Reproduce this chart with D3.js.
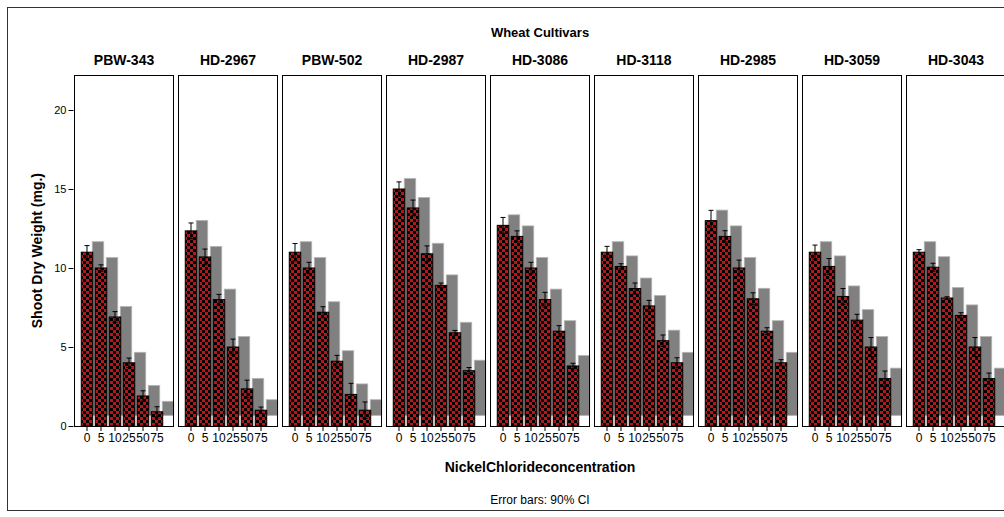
<!DOCTYPE html>
<html>
<head>
<meta charset="utf-8">
<script src="https://cdn.jsdelivr.net/npm/d3@7"></script>
<style>
  body { margin: 0; background: #fff; }
  text { font-family: "Liberation Sans", Arial, sans-serif; fill: #000; }
</style>
</head>
<body>
<div id="main"></div>
<script>
var cultivars = ["PBW-343", "HD-2967", "PBW-502", "HD-2987", "HD-3086", "HD-3118", "HD-2985", "HD-3059", "HD-3043"];
var concentrations = ["0", "5", "10", "25", "50", "75"];

// mean shoot dry weight per cultivar, one value per concentration
var meanWeight = [
  [11.0, 10.0, 6.9, 4.0, 1.9, 0.9],
  [12.35, 10.7, 8.0, 5.0, 2.35, 1.0],
  [11.0, 10.0, 7.2, 4.1, 2.0, 1.0],
  [15.0, 13.8, 10.9, 8.9, 5.9, 3.5],
  [12.7, 12.0, 10.0, 8.0, 6.0, 3.8],
  [11.0, 10.1, 8.7, 7.6, 5.4, 4.0],
  [13.0, 12.0, 10.0, 8.05, 6.0, 4.0],
  [11.0, 10.1, 8.2, 6.7, 5.0, 3.0],
  [11.0, 10.05, 8.1, 7.0, 5.0, 3.0]
];
// half width of the 90% CI
var ciHalf = [
  [0.42, 0.2, 0.34, 0.3, 0.33, 0.32],
  [0.5, 0.5, 0.33, 0.5, 0.55, 0.2],
  [0.55, 0.36, 0.35, 0.37, 0.7, 0.52],
  [0.45, 0.5, 0.5, 0.15, 0.15, 0.2],
  [0.5, 0.35, 0.36, 0.46, 0.35, 0.17],
  [0.37, 0.17, 0.35, 0.35, 0.36, 0.32],
  [0.65, 0.36, 0.5, 0.38, 0.22, 0.2],
  [0.45, 0.5, 0.5, 0.37, 0.6, 0.48],
  [0.16, 0.25, 0.08, 0.17, 0.6, 0.35]
];
var yTicks = [0, 5, 10, 15, 20];

var W = 1004, H = 517;
var panelLeft = 74, panelStep = 104, panelW = 100;
var shadowDx = 11, shadowDy = -10.5;

var svg = d3.select("#main").append("svg")
  .attr("width", W).attr("height", H);

// checker pattern for the bars
var defs = svg.append("defs");
var pat = defs.append("pattern")
  .attr("id", "checker")
  .attr("patternUnits", "userSpaceOnUse")
  .attr("width", 6).attr("height", 6);
pat.append("rect").attr("width", 6).attr("height", 6).attr("fill", "#b5181c");
pat.append("rect").attr("width", 3).attr("height", 3).attr("fill", "#000");
pat.append("rect").attr("x", 3).attr("y", 3).attr("width", 3).attr("height", 3).attr("fill", "#000");

// outer frame
svg.append("rect")
  .attr("x", 7.5).attr("y", 7.5).attr("width", 1010).attr("height", 503)
  .attr("fill", "none").attr("stroke", "#333").attr("stroke-width", 1);

var y = d3.scaleLinear().domain([0, 20]).range([426, 110]);
var panelTop = y(22.2);

var x = d3.scaleBand()
  .domain(concentrations)
  .range([6, 90])
  .paddingInner(0.18)
  .paddingOuter(0.09);

var midX = panelLeft + (panelStep * cultivars.length - 4) / 2;

// titles
svg.append("text")
  .attr("x", midX).attr("y", 37)
  .attr("text-anchor", "middle")
  .style("font-size", "13px").style("font-weight", "bold")
  .text("Wheat Cultivars");

svg.append("text")
  .attr("transform", "translate(42," + (y(0) + panelTop) / 2 + ") rotate(-90)")
  .attr("text-anchor", "middle")
  .style("font-size", "14px").style("font-weight", "bold")
  .text("Shoot Dry Weight (mg.)");

svg.append("text")
  .attr("x", midX).attr("y", 472)
  .attr("text-anchor", "middle")
  .style("font-size", "14px").style("font-weight", "bold")
  .text("NickelChlorideconcentration");

svg.append("text")
  .attr("x", midX).attr("y", 504)
  .attr("text-anchor", "middle")
  .style("font-size", "12px")
  .text("Error bars: 90% CI");

// y axis
var yAxis = d3.axisLeft(y).tickValues(yTicks).tickSize(5).tickPadding(2);
var ya = svg.append("g")
  .attr("transform", "translate(" + (panelLeft - 0.5) + ",0)")
  .call(yAxis);
ya.select(".domain").remove();
ya.selectAll("text").style("font-size", "11px").attr("fill", "#222");
ya.selectAll("line").attr("stroke", "#000");

var panels = svg.selectAll(".panel")
  .data(cultivars)
  .enter().append("g")
  .attr("class", "panel")
  .attr("transform", function(d, i) { return "translate(" + (panelLeft + panelStep * i) + ",0)"; });

panels.append("text")
  .attr("x", panelW / 2).attr("y", 65)
  .attr("text-anchor", "middle")
  .style("font-size", "14px").style("font-weight", "bold")
  .text(function(d) { return d; });

panels.append("rect")
  .attr("x", 0.5).attr("y", Math.round(panelTop) + 0.5)
  .attr("width", panelW - 1).attr("height", y(0) - Math.round(panelTop))
  .attr("fill", "#fff");

var rowData = function(d, i) {
  return concentrations.map(function(c, j) {
    return { c: c, v: meanWeight[i][j], e: ciHalf[i][j] };
  });
};

// shadows
panels.each(function(d, i) {
  var g = d3.select(this);
  var rows = rowData(d, i);
  g.selectAll(".shadow").data(rows).enter().append("rect")
    .attr("class", "shadow")
    .attr("x", function(r) { return x(r.c) + shadowDx; })
    .attr("y", function(r) { return y(r.v) + shadowDy; })
    .attr("width", x.bandwidth())
    .attr("height", function(r) { return y(0) - y(r.v); })
    .attr("fill", "#808080")
    .attr("stroke", "#b5b5b5").attr("stroke-width", 0.8);
});

// frame
panels.append("rect")
  .attr("x", 0.5).attr("y", Math.round(panelTop) + 0.5)
  .attr("width", panelW - 1).attr("height", y(0) - Math.round(panelTop))
  .attr("fill", "none").attr("stroke", "#000").attr("stroke-width", 1);

panels.each(function(d, i) {
  var g = d3.select(this);
  var rows = rowData(d, i);

  g.selectAll(".bar").data(rows).enter().append("rect")
    .attr("class", "bar")
    .attr("x", function(r) { return x(r.c); })
    .attr("y", function(r) { return y(r.v); })
    .attr("width", x.bandwidth())
    .attr("height", function(r) { return y(0) - y(r.v); })
    .attr("fill", "url(#checker)")
    .attr("stroke", "#000").attr("stroke-width", 1);

  var eb = g.selectAll(".err").data(rows).enter().append("g").attr("class", "err");
  var cx = function(r) { return x(r.c) + x.bandwidth() / 2; };
  eb.append("line")
    .attr("x1", cx).attr("x2", cx)
    .attr("y1", function(r) { return y(r.v + r.e); })
    .attr("y2", function(r) { return y(r.v - r.e); })
    .attr("stroke", "#000").attr("stroke-width", 1);
  [1, -1].forEach(function(s) {
    eb.append("line")
      .attr("x1", function(r) { return cx(r) - 2.5; })
      .attr("x2", function(r) { return cx(r) + 2.5; })
      .attr("y1", function(r) { return y(r.v + s * r.e); })
      .attr("y2", function(r) { return y(r.v + s * r.e); })
      .attr("stroke", "#000").attr("stroke-width", 1);
  });

  var xa = g.append("g")
    .attr("transform", "translate(0," + y(0) + ")")
    .call(d3.axisBottom(x).tickSize(5).tickPadding(2));
  xa.select(".domain").remove();
  xa.selectAll("text").style("font-size", "12px").attr("fill", "#222");
  xa.selectAll("line").attr("stroke", "#000");
});
</script>
</body>
</html>
